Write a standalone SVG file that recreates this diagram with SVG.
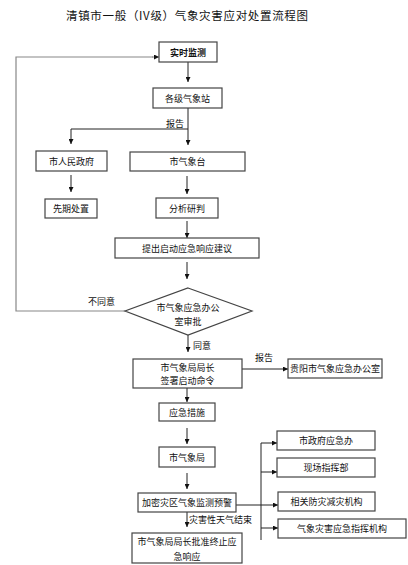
<svg xmlns="http://www.w3.org/2000/svg" width="408" height="565" viewBox="0 0 408 565">
<defs>
<marker id="ah" viewBox="0 0 10 10" refX="10" refY="5" markerWidth="5" markerHeight="5" orient="auto" markerUnits="userSpaceOnUse"><path d="M0,0 L10,5 L0,10 z" fill="#111"/></marker>
<style>
.b{fill:#fff;stroke:#444;stroke-width:1.2}
.t{font-family:"Noto Sans CJK SC","Noto Sans",sans-serif;font-size:9px;fill:#111;text-anchor:middle;dominant-baseline:central}
.l{font-family:"Noto Sans CJK SC","Noto Sans",sans-serif;font-size:9px;fill:#111;dominant-baseline:central}
.c{fill:none;stroke:#222;stroke-width:1}
.a{fill:none;stroke:#222;stroke-width:1;marker-end:url(#ah)}
.g{fill:none;stroke:#888;stroke-width:1.2}
</style>
</defs>
<rect width="408" height="565" fill="#fff"/>
<text x="187" y="15" class="t" style="font-size:11.5px" textLength="242" lengthAdjust="spacing">清镇市一般（IV级）气象灾害应对处置流程图</text>

<g id="connectors">
<path class="g" d="M125,311 H16 V57 H153"/>
<path class="a" d="M152,57 H159" style="stroke:#888"/>
<path class="a" d="M188,62 V82"/>
<path class="c" d="M188,108 V129 H71"/>
<path class="a" d="M71,129 V144"/>
<path class="a" d="M188,129 V145"/>
<path class="a" d="M71,175 V192"/>
<path class="a" d="M187,176 V194"/>
<path class="a" d="M187,221 V238"/>
<path class="a" d="M187,262 V279"/>
<path class="a" d="M188,335 V352"/>
<path class="a" d="M242,369 H288"/>
<path class="a" d="M187,388 V402"/>
<path class="a" d="M187,428 V444"/>
<path class="a" d="M187,473 V489"/>
<path class="a" d="M187,512 V527"/>
<path class="c" d="M261,443 V540"/>
<path class="a" d="M261,443 H277"/>
<path class="a" d="M261,472 H277"/>
<path class="a" d="M236,505 H278"/>
<path class="a" d="M261,528 H278"/>
</g>

<g id="n1"><rect class="b" x="159" y="42" width="58" height="20"/><text class="t" x="188" y="52" font-weight="bold">实时监测</text></g>
<g id="n2"><rect class="b" x="153" y="88" width="69" height="20"/><text class="t" x="187.5" y="98">各级气象站</text></g>
<g id="lbl1"><text class="l" x="166" y="123">报告</text></g>
<g id="n3"><rect class="b" x="36" y="151" width="71" height="20"/><text class="t" x="71.5" y="161">市人民政府</text></g>
<g id="n4"><rect class="b" x="130" y="152" width="115" height="19"/><text class="t" x="187.5" y="161.5">市气象台</text></g>
<g id="n5"><rect class="b" x="45" y="199" width="52" height="19"/><text class="t" x="71" y="208.5">先期处置</text></g>
<g id="n6"><rect class="b" x="156" y="198" width="62" height="20"/><text class="t" x="187" y="208">分析研判</text></g>
<g id="n7"><rect class="b" x="115" y="238" width="144" height="20"/><text class="t" x="187" y="248">提出启动应急响应建议</text></g>
<g id="n8"><polygon class="b" points="188,288 252,311 188,335 125,311"/><text class="t" x="188" y="307">市气象应急办公</text><text class="t" x="188" y="321">室审批</text></g>
<g id="lbl2"><text class="l" x="88" y="301">不同意</text></g>
<g id="lbl3"><text class="l" x="193" y="345">同意</text></g>
<g id="n9"><rect class="b" x="133" y="359" width="109" height="29"/><text class="t" x="187.5" y="367">市气象局局长</text><text class="t" x="187.5" y="380">签署启动命令</text></g>
<g id="lbl4"><text class="l" x="255" y="357">报告</text></g>
<g id="n10"><rect class="b" x="288" y="359" width="94" height="19"/><text class="t" x="335" y="368.5">贵阳市气象应急办公室</text></g>
<g id="n11"><rect class="b" x="159" y="403" width="56" height="18"/><text class="t" x="187" y="412">应急措施</text></g>
<g id="n12"><rect class="b" x="159" y="447" width="56" height="20"/><text class="t" x="187" y="457">市气象局</text></g>
<g id="n13"><rect class="b" x="138" y="493" width="98" height="19"/><text class="t" x="187" y="502.5">加密灾区气象监测预警</text></g>
<g id="lbl5"><text class="l" x="189" y="519">灾害性天气结束</text></g>
<g id="n14"><rect class="b" x="132" y="533" width="110" height="30"/><text class="t" x="187" y="541">市气象局局长批准终止应</text><text class="t" x="187" y="556">急响应</text></g>
<g id="n15"><rect class="b" x="277" y="431" width="98" height="19"/><text class="t" x="326" y="440.5">市政府应急办</text></g>
<g id="n16"><rect class="b" x="277" y="458" width="98" height="19"/><text class="t" x="326" y="467.5">现场指挥部</text></g>
<g id="n17"><rect class="b" x="278" y="492" width="97" height="19"/><text class="t" x="326.5" y="501.5">相关防灾减灾机构</text></g>
<g id="n18"><rect class="b" x="278" y="519" width="128" height="19"/><text class="t" x="342" y="528.5">气象灾害应急指挥机构</text></g>
</svg>
